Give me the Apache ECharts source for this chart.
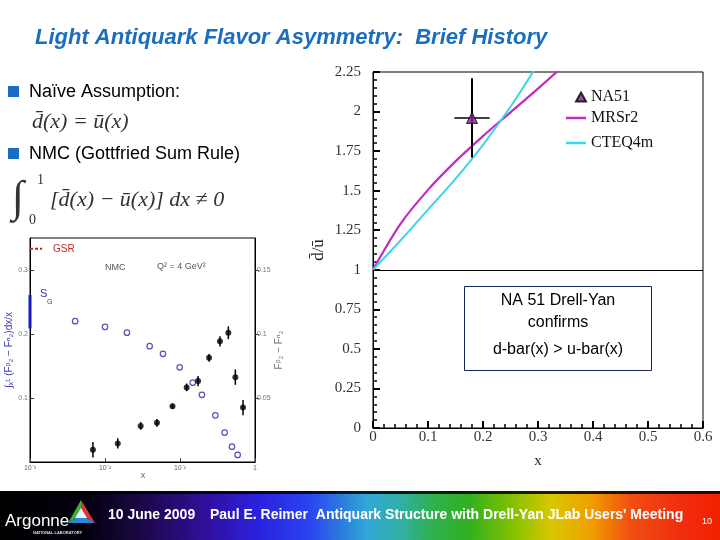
<!DOCTYPE html>
<html><head><meta charset="utf-8">
<script src="https://cdn.jsdelivr.net/npm/echarts@6/dist/echarts.min.js"></script>
<style>html,body{margin:0;padding:0;background:#fff}#c{width:720px;height:540px}</style>
</head><body><div id="c"></div>
<script>
// ---- Main chart data (d-bar/u-bar vs x) ----
const mrsX = [0, 0.05, 0.1, 0.15, 0.2, 0.25, 0.3, 0.35];
const mrsY = [1.0, 1.29, 1.505, 1.685, 1.845, 1.995, 2.145, 2.30];
const cteqX = [0, 0.05, 0.1, 0.15, 0.2, 0.25, 0.3];
const cteqY = [1.0, 1.185, 1.38, 1.575, 1.79, 2.03, 2.30];
const na51X = [0.18];
const na51Y = [1.96];
const na51XErr = [0.032];
const na51YErr = [0.25];
const mainYTicks = [0, 0.25, 0.5, 0.75, 1, 1.25, 1.5, 1.75, 2, 2.25];

// ---- NMC inset data ----
const nmcOpenX = [0.004, 0.01, 0.0196, 0.0394, 0.0593, 0.099, 0.148, 0.196, 0.296, 0.394, 0.493, 0.587];
const nmcOpenY = [0.220, 0.211, 0.202, 0.181, 0.169, 0.148, 0.124, 0.105, 0.073, 0.046, 0.024, 0.011];
const nmcFillX = [0.0069, 0.0148, 0.0299, 0.0493, 0.0794, 0.1227, 0.174, 0.244, 0.341, 0.441, 0.547, 0.692];
const nmcFillY = [0.0096, 0.0145, 0.0282, 0.0306, 0.0435, 0.0583, 0.0632, 0.0814, 0.0943, 0.101, 0.0663, 0.0425];
const nmcFillErr = [0.006, 0.004, 0.003, 0.003, 0.002, 0.003, 0.004, 0.003, 0.004, 0.005, 0.006, 0.006];
const gsrValue = 1/3;
const sgLow = 0.209, sgHigh = 0.261;
const insetXLabels = {'-3':'10\u207B\u00B3','-2':'10\u207B\u00B2','-1':'10\u207B\u00B9','0':'1'};

const zip = (a,b) => a.map((v,i)=>[v,b[i]]);
const SERIF = '"Liberation Serif", "Times New Roman", serif';
const SANS = '"Liberation Sans", Arial, sans-serif';
const chart = echarts.init(document.getElementById('c'));

function errBar(params, api, withX){
  const x = api.value(0), y = api.value(1), ex = api.value(2), ey = api.value(3);
  const children = [];
  const t = api.coord([x, y+ey]), b = api.coord([x, y-ey]);
  children.push({type:'line', shape:{x1:t[0],y1:t[1],x2:b[0],y2:b[1]}, style:{stroke:'#000', lineWidth: withX?2:1.5}});
  if (withX && ex>0){
    const l = api.coord([x-ex, y]), r = api.coord([x+ex, y]);
    children.push({type:'line', shape:{x1:l[0],y1:l[1],x2:r[0],y2:r[1]}, style:{stroke:'#000', lineWidth:1.5}});
  }
  return {type:'group', children};
}
const mid = {textVerticalAlign:'middle', verticalAlign:'middle'};
const ctr = {textAlign:'center', align:'center', textVerticalAlign:'middle', verticalAlign:'middle'};

const option = {
  animation:false,
  backgroundColor:'#fff',
  grid:[
    {left:373, top:72, width:330, height:356, show:true, borderColor:'#000', borderWidth:1, backgroundColor:'transparent'},
    {left:30, top:238, width:225, height:224, show:true, borderColor:'#000', borderWidth:1, backgroundColor:'#fff'}
  ],
  legend:[
    {data:['NA51'], left:575, top:89, padding:0, itemWidth:10, itemHeight:9, itemGap:5,
     textStyle:{fontFamily:SERIF, fontSize:16, color:'#111'}},
    {data:[{name:'MRSr2', icon:'rect'},{name:'CTEQ4m', icon:'rect'}], orient:'vertical', left:566, top:110, padding:0,
     itemWidth:20, itemHeight:2.5, itemGap:9,
     textStyle:{fontFamily:SERIF, fontSize:16, color:'#111', lineHeight:16}}
  ],
  xAxis:[
    {gridIndex:0, type:'value', min:0, max:0.6, interval:0.1,
     name:'x', nameLocation:'middle', nameGap:26, nameTextStyle:{fontFamily:SERIF, fontSize:15, color:'#222'},
     axisLine:{lineStyle:{color:'#000', width:1}},
     axisTick:{inside:true, length:7, lineStyle:{color:'#000', width:2}},
     minorTick:{show:true, splitNumber:5, length:4, lineStyle:{color:'#000', width:1.5}},
     splitLine:{show:false},
     axisLabel:{fontFamily:SERIF, fontSize:15, color:'#333', margin:2}},
    {gridIndex:1, type:'log', logBase:10, min:0.001, max:1,
     axisLine:{lineStyle:{color:'#000', width:1}},
     axisTick:{inside:true, length:4, lineStyle:{color:'#444'}},
     splitLine:{show:false},
     axisLabel:{fontFamily:SANS, fontSize:7, color:'#666', margin:3,
       formatter:v=>insetXLabels[String(Math.round(Math.log10(v)))]||''}}
  ],
  yAxis:[
    {gridIndex:0, type:'value', min:0, max:2.25, interval:0.25,
     name:'d\u0304/u\u0304', nameLocation:'middle', nameGap:46, nameRotate:90,
     nameTextStyle:{fontFamily:SERIF, fontSize:17, color:'#222'},
     axisLine:{lineStyle:{color:'#000', width:1}},
     axisTick:{inside:true, length:7, lineStyle:{color:'#000', width:2}},
     minorTick:{show:true, splitNumber:5, length:4, lineStyle:{color:'#000', width:1.5}},
     splitLine:{show:false},
     axisLabel:{fontFamily:SERIF, fontSize:15, color:'#333', margin:12,
       formatter:v=>mainYTicks.includes(+v.toFixed(2))?String(+v.toFixed(2)):''}},
    {gridIndex:1, type:'value', min:0, max:0.35, interval:0.1, position:'left',
     axisLine:{lineStyle:{color:'#000', width:1}},
     axisTick:{inside:true, length:4, lineStyle:{color:'#333'}},
     splitLine:{show:false},
     axisLabel:{fontFamily:SANS, fontSize:7, color:'#777', margin:2, showMinLabel:false, showMaxLabel:false},
     name:'\u222B\u2093\u00B9 (F\u1D56\u2082 \u2212 F\u207F\u2082)dx/x', nameLocation:'middle', nameGap:14, nameRotate:90,
     nameTextStyle:{fontFamily:SANS, fontSize:10, color:'#4040b0'}},
    {gridIndex:1, type:'value', min:0, max:0.175, interval:0.05, position:'right',
     axisLine:{lineStyle:{color:'#000', width:1}},
     axisTick:{inside:false, length:4, lineStyle:{color:'#333'}},
     splitLine:{show:false},
     axisLabel:{fontFamily:SANS, fontSize:7, color:'#777', margin:2, showMinLabel:false, showMaxLabel:false},
     name:'F\u1D56\u2082 \u2212 F\u207F\u2082', nameLocation:'middle', nameGap:14, nameRotate:90,
     nameTextStyle:{fontFamily:SANS, fontSize:10, color:'#777'}}
  ],
  series:[
    {name:'MRSr2', type:'line', xAxisIndex:0, yAxisIndex:0, data:zip(mrsX,mrsY), smooth:0.3,
     symbol:'none', clip:true, lineStyle:{color:'#c02cc0', width:2.2}, itemStyle:{color:'#c02cc0'},
     markLine:{silent:true, symbol:'none', label:{show:false}, lineStyle:{color:'#000', width:1, type:'solid'},
       data:[{yAxis:1}]}},
    {name:'CTEQ4m', type:'line', xAxisIndex:0, yAxisIndex:0, data:zip(cteqX,cteqY), smooth:0.3,
     symbol:'none', clip:true, lineStyle:{color:'#3cd6e6', width:2}, itemStyle:{color:'#3cd6e6'}},
    {name:'NA51err', type:'custom', xAxisIndex:0, yAxisIndex:0,
     data:na51X.map((x,i)=>[x,na51Y[i],na51XErr[i],na51YErr[i]]),
     renderItem:(p,a)=>errBar(p,a,true), z:5},
    {name:'NA51', type:'scatter', xAxisIndex:0, yAxisIndex:0, data:zip(na51X,na51Y), symbol:'triangle', symbolSize:11,
     itemStyle:{color:'#8a1f8e', borderColor:'#000', borderWidth:1}, z:6},
    // inset
    {name:'gsr', type:'line', xAxisIndex:1, yAxisIndex:1, data:[[0.001,gsrValue],[0.00145,gsrValue]],
     symbol:'none', lineStyle:{color:'#c0282a', width:2, type:[3,2]}},
    {name:'sg', type:'line', xAxisIndex:1, yAxisIndex:1, data:[[0.001,sgLow],[0.001,sgHigh]],
     symbol:'none', lineStyle:{color:'#1818c0', width:3}, z:4},
    {name:'open', type:'scatter', xAxisIndex:1, yAxisIndex:1, data:zip(nmcOpenX,nmcOpenY), symbol:'circle', symbolSize:5.5,
     itemStyle:{color:'#fff', borderColor:'#2a2aa8', borderWidth:1.2}},
    {name:'fillerr', type:'custom', xAxisIndex:1, yAxisIndex:2,
     data:nmcFillX.map((x,i)=>[x,nmcFillY[i],0,nmcFillErr[i]]), renderItem:(p,a)=>errBar(p,a,false)},
    {name:'fill', type:'scatter', xAxisIndex:1, yAxisIndex:2, data:zip(nmcFillX,nmcFillY), symbol:'circle', symbolSize:6,
     itemStyle:{color:'#000'}}
  ],
  graphic:[
    {type:'text', x:35, y:38, style:Object.assign({text:'Light Antiquark Flavor Asymmetry:  Brief History', font:'italic bold 22px '+SANS, fill:'#1a6ec0'}, mid)},
    {type:'rect', shape:{x:8, y:86, width:11, height:11}, style:{fill:'#1a6ec0'}},
    {type:'text', x:29, y:92, style:Object.assign({text:'Na\u00EFve Assumption:', font:'18px '+SANS, fill:'#000'}, mid)},
    {type:'text', x:32, y:122, style:Object.assign({text:'d\u0304(x) = u\u0304(x)', font:'italic 22px '+SERIF, fill:'#333'}, mid)},
    {type:'rect', shape:{x:8, y:148, width:11, height:11}, style:{fill:'#1a6ec0'}},
    {type:'text', x:29, y:154, style:Object.assign({text:'NMC (Gottfried Sum Rule)', font:'18px '+SANS, fill:'#000'}, mid)},
    {type:'text', x:12, y:199, style:Object.assign({text:'\u222B', font:'italic 44px '+SERIF, fill:'#333'}, mid)},
    {type:'text', x:37, y:180, style:Object.assign({text:'1', font:'14px '+SERIF, fill:'#333'}, mid)},
    {type:'text', x:29, y:220, style:Object.assign({text:'0', font:'14px '+SERIF, fill:'#333'}, mid)},
    {type:'text', x:50, y:200, style:Object.assign({text:'[d\u0304(x) \u2212 u\u0304(x)] dx \u2260 0', font:'italic 22px '+SERIF, fill:'#333'}, mid)},
    // inset texts
    {type:'text', x:53, y:249, z:10, style:Object.assign({text:'GSR', font:'10px '+SANS, fill:'#c0282a'}, mid)},
    {type:'text', x:40, y:294, z:10, style:Object.assign({text:'S', font:'11px '+SANS, fill:'#3030a0'}, mid)},
    {type:'text', x:47, y:302, z:10, style:Object.assign({text:'G', font:'7px '+SANS, fill:'#3030a0'}, mid)},
    {type:'text', x:105, y:268, z:10, style:Object.assign({text:'NMC', font:'9px '+SANS, fill:'#555'}, mid)},
    {type:'text', x:157, y:267, z:10, style:Object.assign({text:'Q\u00B2 = 4 GeV\u00B2', font:'9px '+SANS, fill:'#555'}, mid)},
    {type:'text', x:143, y:476, z:10, style:Object.assign({text:'x', font:'9px '+SANS, fill:'#666'}, ctr)},
    // text box
    {type:'rect', z:20, shape:{x:464.5, y:286.5, width:187, height:84}, style:{fill:'#fff', stroke:'#1b2658', lineWidth:1}},
    {type:'text', z:21, x:558, y:301, style:Object.assign({text:'NA 51 Drell-Yan', font:'16px '+SANS, fill:'#000'}, ctr)},
    {type:'text', z:21, x:558, y:323, style:Object.assign({text:'confirms', font:'16px '+SANS, fill:'#000'}, ctr)},
    {type:'text', z:21, x:558, y:350, style:Object.assign({text:'d-bar(x) > u-bar(x)', font:'16px '+SANS, fill:'#000'}, ctr)},
    // footer
    {type:'rect', z:30, shape:{x:0, y:491, width:720, height:49}, style:{fill:{type:'linear', x:0, y:0, x2:1, y2:0, colorStops:[
      {offset:0, color:'#000000'}, {offset:0.12, color:'#04000e'}, {offset:0.2, color:'#1c0848'}, {offset:0.29, color:'#3010a0'},
      {offset:0.36, color:'#2a22e0'}, {offset:0.43, color:'#2a44f0'}, {offset:0.47, color:'#2c76e0'}, {offset:0.51, color:'#30a8d6'},
      {offset:0.56, color:'#30b0a0'}, {offset:0.6, color:'#30b050'}, {offset:0.65, color:'#30b020'}, {offset:0.71, color:'#80c000'},
      {offset:0.765, color:'#d8c800'}, {offset:0.82, color:'#f0a000'}, {offset:0.875, color:'#f05010'}, {offset:0.94, color:'#f03010'},
      {offset:1, color:'#f02000'}]}}},
    {type:'rect', z:31, shape:{x:0, y:491, width:720, height:3}, style:{fill:'rgba(0,0,0,0.85)'}},
    {type:'text', z:32, x:5, y:521, style:Object.assign({text:'Argonne', font:'17px '+SANS, fill:'#fff'}, mid)},
    {type:'text', z:32, x:33, y:533, style:Object.assign({text:'NATIONAL LABORATORY', font:'bold 4px '+SANS, fill:'#ddd'}, mid)},
    {type:'polygon', z:32, shape:{points:[[81,500],[68,523],[81,515]]}, style:{fill:'#3cae3c'}},
    {type:'polygon', z:32, shape:{points:[[81,500],[95,523],[81,515]]}, style:{fill:'#d8363c'}},
    {type:'polygon', z:32, shape:{points:[[68,523],[95,523],[81,515]]}, style:{fill:'#2a8ad8'}},
    {type:'polygon', z:33, shape:{points:[[81,508],[75,518],[87,518]]}, style:{fill:'#e8f4ff'}},
    {type:'text', z:32, x:108, y:515, style:Object.assign({text:'10 June 2009', font:'bold 14px '+SANS, fill:'#fff'}, mid)},
    {type:'text', z:32, x:210, y:515, style:Object.assign({text:"Paul E. Reimer  Antiquark Structure with Drell-Yan JLab Users' Meeting", font:'bold 14px '+SANS, fill:'#fff'}, mid)},
    {type:'text', z:32, x:702, y:522, style:Object.assign({text:'10', font:'9px '+SANS, fill:'#fff'}, mid)}
  ]
};
chart.setOption(option);
</script></body></html>
